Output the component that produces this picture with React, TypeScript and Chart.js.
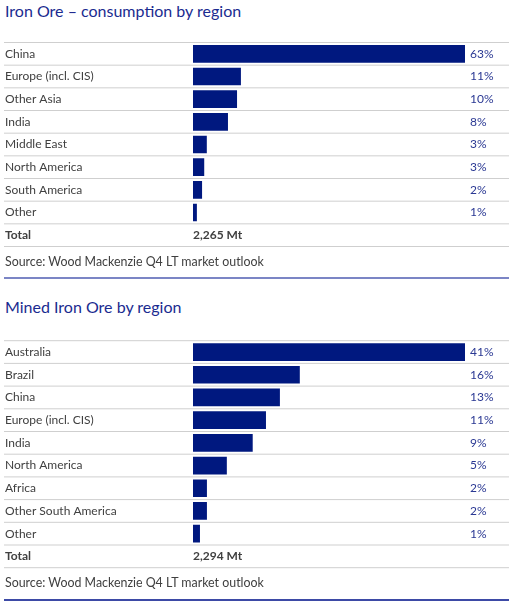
import React, { useEffect, useRef } from "react";
import { Chart, registerables } from "chart.js";

Chart.register(...registerables);

const consumptionCategories = [
  "China",
  "Europe (incl. CIS)",
  "Other Asia",
  "India",
  "Middle East",
  "North America",
  "South America",
  "Other",
];
const consumptionValues = [63, 11.1, 10.2, 8.1, 3.2, 2.6, 2.1, 0.9];
const consumptionLabels = ["63%", "11%", "10%", "8%", "3%", "3%", "2%", "1%"];
const consumptionTotal = "2,265 Mt";

const minedCategories = [
  "Australia",
  "Brazil",
  "China",
  "Europe (incl. CIS)",
  "India",
  "North America",
  "Africa",
  "Other South America",
  "Other",
];
const minedValues = [41, 16.1, 13.1, 11, 9, 5.1, 2.1, 2.1, 1.05];
const minedLabels = ["41%", "16%", "13%", "11%", "9%", "5%", "2%", "2%", "1%"];
const minedTotal = "2,294 Mt";

const FONT = "Lato";
const BAR_COLOR = "#00187f";
const PCT_COLOR = "#2a3893";
const TEXT_COLOR = "#404040";
const TITLE_COLOR = "#1a2b90";
const ROW_LINE = "#cfcfcf";

type TableChartProps = {
  categories: string[];
  values: number[];
  labels: string[];
  total: string;
  top: number;
  height: number;
  padTop: number;
  areaHeight: number;
};

function TableChart({ categories, values, labels, total, top, height, padTop, areaHeight }: TableChartProps) {
  const ref = useRef<HTMLCanvasElement | null>(null);

  useEffect(() => {
    if (!ref.current) return;
    const n = categories.length;
    const rowPlugin = {
      id: "rowPlugin",
      afterDraw(chart: any) {
        const ctx = chart.ctx;
        const y = chart.scales.y;
        const x = chart.scales.x;
        const area = chart.chartArea;
        ctx.save();
        ctx.strokeStyle = ROW_LINE;
        ctx.lineWidth = 1;
        for (let i = 0; i <= n + 1; i++) {
          const py = y.getPixelForValue(i - 0.5);
          ctx.beginPath();
          ctx.moveTo(4, py);
          ctx.lineTo(509, py);
          ctx.stroke();
        }
        ctx.textBaseline = "middle";
        ctx.textAlign = "left";
        ctx.font = `12px ${FONT}`;
        ctx.fillStyle = PCT_COLOR;
        for (let i = 0; i < n; i++) {
          ctx.fillText(labels[i], area.right + 5, y.getPixelForValue(i));
        }
        ctx.font = `bold 12px ${FONT}`;
        ctx.fillStyle = TEXT_COLOR;
        ctx.fillText(total, x.getPixelForValue(0), y.getPixelForValue(n));
        ctx.restore();
      },
    };

    const chart = new Chart(ref.current, {
      type: "bar",
      data: {
        labels: [...categories, "Total"],
        datasets: [
          {
            data: [...values, null],
            backgroundColor: BAR_COLOR,
            barPercentage: 0.78,
            categoryPercentage: 1,
          },
        ],
      },
      options: {
        indexAxis: "y",
        animation: false,
        responsive: false,
        maintainAspectRatio: false,
        layout: {
          padding: { left: 5, right: 50, top: padTop, bottom: height - padTop - areaHeight },
        },
        plugins: {
          legend: { display: false },
          tooltip: { enabled: false },
          title: { display: false },
        },
        scales: {
          x: { display: false, min: 0, max: Math.max(...values) },
          y: {
            position: "left",
            grid: { display: false },
            border: { display: false },
            ticks: {
              crossAlign: "far",
              padding: 0,
              color: TEXT_COLOR,
              font: (c: any) =>
                c.index === n
                  ? { family: FONT, size: 12, weight: "bold" }
                  : { family: FONT, size: 12 },
            },
            afterFit: (s: any) => {
              s.width = 188;
            },
          },
        },
      },
      plugins: [rowPlugin],
    } as any);
    return () => chart.destroy();
  }, [categories, values, labels, total, height, padTop, areaHeight]);

  return (
    <canvas
      ref={ref}
      width={515}
      height={height}
      style={{ position: "absolute", left: 0, top, width: 515, height }}
    />
  );
}

const titleStyle = (top: number): React.CSSProperties => ({
  position: "absolute",
  left: 5,
  top,
  fontFamily: FONT,
  fontSize: 16,
  lineHeight: "20px",
  color: TITLE_COLOR,
  whiteSpace: "nowrap",
});

const sourceStyle = (top: number): React.CSSProperties => ({
  position: "absolute",
  left: 5,
  top,
  fontFamily: FONT,
  fontSize: 12.4,
  lineHeight: "16px",
  color: TEXT_COLOR,
  whiteSpace: "nowrap",
});

export default function App() {
  return (
    <div style={{ position: "absolute", left: 0, top: 0, width: 515, height: 605, background: "#fff", overflow: "hidden" }}>
      <div style={titleStyle(1)}>Iron Ore – consumption by region</div>
      <TableChart
        categories={consumptionCategories}
        values={consumptionValues}
        labels={consumptionLabels}
        total={consumptionTotal}
        top={32}
        height={225}
        padTop={10.5}
        areaHeight={204}
      />
      <div style={sourceStyle(254)}>Source: Wood Mackenzie Q4 LT market outlook</div>
      <div style={{ position: "absolute", left: 4, top: 277, width: 505, height: 1.5, background: "#7b85c5" }} />

      <div style={titleStyle(297)}>Mined Iron Ore by region</div>
      <TableChart
        categories={minedCategories}
        values={minedValues}
        labels={minedLabels}
        total={minedTotal}
        top={330}
        height={248}
        padTop={10.7}
        areaHeight={227}
      />
      <div style={sourceStyle(575)}>Source: Wood Mackenzie Q4 LT market outlook</div>
      <div style={{ position: "absolute", left: 4, top: 599, width: 505, height: 1.5, background: "#3d4aa6" }} />
    </div>
  );
}
